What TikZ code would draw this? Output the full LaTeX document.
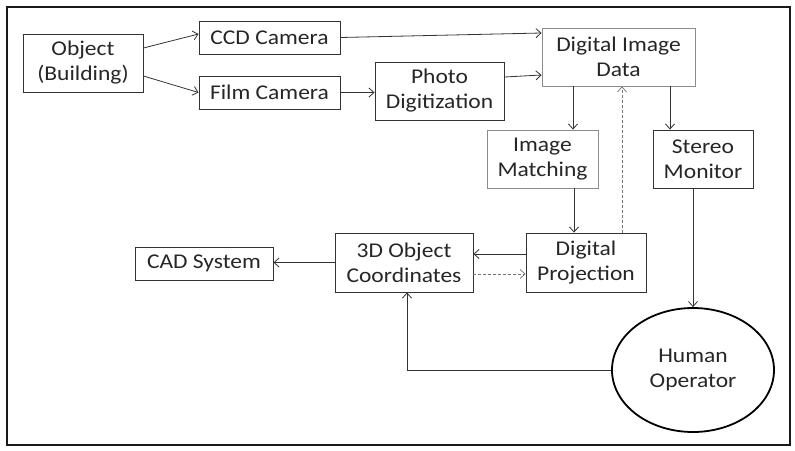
\documentclass[tikz,border=0pt]{standalone}
\usepackage{fontspec}
\setmainfont{Carlito}[FakeStretch=1.12]
\usetikzlibrary{arrows.meta,shapes.geometric}
\begin{document}
\begin{tikzpicture}[x=1pt,y=-1pt,
  every node/.style={font=\fontsize{21}{25}\selectfont, text=black!85, align=center, inner sep=0pt},
  box/.style={draw=black!80, line width=0.9pt, rectangle},
  lbox/.style={draw=black!45, line width=0.9pt, rectangle},
  arr/.style={draw=black!80, line width=0.8pt, -{Straight Barb[length=5pt,width=9pt]}},
  darr/.style={draw=black!55, line width=0.7pt, dashed, dash pattern=on 3pt off 2pt, -{Straight Barb[length=5pt,width=9pt]}}]
\useasboundingbox (0,0) rectangle (795,450);
\draw[line width=2pt, draw=black!90] (7,7) rectangle (790,445);
\node[box, minimum width=120pt, minimum height=58pt] (obj) at (83,63) {Object\\(Building)};
\node[box, minimum width=141pt, minimum height=33pt] (ccd) at (269.5,37.5) {CCD Camera};
\node[box, minimum width=141pt, minimum height=33pt] (film) at (269.5,92.5) {Film Camera};
\node[box, minimum width=129pt, minimum height=58pt] (photo) at (439.5,91) {Photo\\Digitization};
\node[lbox, minimum width=153pt, minimum height=58pt] (did) at (618.5,57) {Digital Image\\Data};
\node[lbox, minimum width=111pt, minimum height=58pt] (im) at (542.5,159) {Image\\Matching};
\node[box, minimum width=100pt, minimum height=58pt] (sm) at (703,159) {Stereo\\Monitor};
\node[box, minimum width=120pt, minimum height=59pt] (dp) at (586,262.5) {Digital\\Projection};
\node[box, minimum width=138pt, minimum height=59pt] (obc) at (404,262.5) {3D Object\\Coordinates};
\node[box, minimum width=138pt, minimum height=33pt] (cad) at (204,263.5) {CAD System};
\node[ellipse, draw=black, line width=1.8pt, minimum width=162pt, minimum height=124pt] (ho) at (693,370) {Human\\Operator};
% connectors
\draw[arr] ([yshift=15pt]obj.east) -- ([yshift=3.5pt]ccd.west);
\draw[arr] ([yshift=-13pt]obj.east) -- (film.west);
\draw[arr] (ccd.east) -- ([yshift=24pt]did.west);
\draw[arr] (film.east) -- (film.east -| photo.west);
\draw[arr] ([yshift=14pt]photo.east) -- ([yshift=-18pt]did.west);
\draw[arr] ([xshift=30.5pt]im.north |- did.south) -- ([xshift=30.5pt]im.north);
\draw[arr] ([xshift=-33pt]sm.north |- did.south) -- ([xshift=-33pt]sm.north);
\draw[darr] ([xshift=36pt]dp.north) -- ([xshift=36pt]dp.north |- did.south);
\draw[arr] ([xshift=31.5pt]im.south) -- ([xshift=31.5pt]im.south |- dp.north);
\draw[arr] ([xshift=-10pt]sm.south) -- (ho.north);
\draw[arr] ([yshift=8.5pt]dp.west) -- ([yshift=8.5pt]dp.west -| obc.east);
\draw[darr] ([yshift=-11.5pt]obc.east) -- ([yshift=-11.5pt]obc.east -| dp.west);
\draw[arr] (obc.west) -- (obc.west -| cad.east);
\draw[arr] (ho.west) -| ([xshift=3pt]obc.south);
\end{tikzpicture}
\end{document}
